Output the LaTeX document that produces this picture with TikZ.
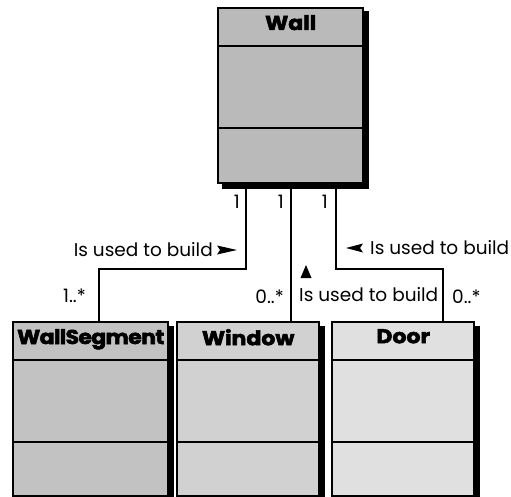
\documentclass[tikz,border=0pt]{standalone}
\usepackage{fontspec}
\usepackage{graphicx}
\setmainfont{Poppins}
\tikzset{
  classbox/.style={draw=black, line width=2.4pt, anchor=north west, inner sep=0pt},
  shadowfill/.style={fill=black},
  titletext/.style={font=\fontsize{20}{22}\selectfont\bfseries\addfontfeature{FakeBold=2.5}, anchor=north, inner sep=0pt},
  lbl/.style={font=\fontsize{18.5}{20}\selectfont, inner sep=0pt},
  conn/.style={line width=1.9pt},
  sep/.style={line width=2.4pt},
  tri/.style={fill=black}
}
\newcommand{\wide}[1]{\scalebox{1.1}[1]{#1}}
\begin{document}
\begin{tikzpicture}[x=1pt,y=-1pt]
\useasboundingbox (0,0) rectangle (511,497);
% classes
\node[classbox, fill=black!27, minimum width=145pt, minimum height=175pt] (wall) at (217,7) {};
\node[classbox, fill=black!24, minimum width=155pt, minimum height=174pt] (seg) at (12,321) {};
\node[classbox, fill=black!18, minimum width=142pt, minimum height=174pt] (win) at (176,321) {};
\node[classbox, fill=black!12, minimum width=142pt, minimum height=174pt] (door) at (331,321) {};
% shadows
\foreach \c in {wall,seg,win,door}{
  \fill[shadowfill] ([yshift=-4.5pt]\c.north east) rectangle ([xshift=5pt,yshift=-4.5pt]\c.south east);
  \fill[shadowfill] ([xshift=4.5pt]\c.south west) rectangle ([xshift=5pt,yshift=-5pt]\c.south east);
}
% separators
\draw[sep] (wall.west |- 0,46) -- (wall.east |- 0,46);
\draw[sep] (wall.west |- 0,128) -- (wall.east |- 0,128);
\foreach \c in {seg,win,door}{
  \draw[sep] (\c.west |- 0,360) -- (\c.east |- 0,360);
  \draw[sep] (\c.west |- 0,442) -- (\c.east |- 0,442);
}
% titles
\node[titletext] (wallT) at ([yshift=-8pt]wall.north) {\wide{Wall}};
\node[titletext] (segT) at ([yshift=-8pt]seg.north) {\wide{\addfontfeature{LetterSpace=-3}WallSegment}};
\node[titletext] (winT) at ([yshift=-8pt]win.north) {\wide{Window}};
\node[titletext] (doorT) at ([yshift=-8pt]door.north) {\wide{Door}};
% connectors
\draw[conn] ([xshift=29pt]wall.south west) -- ++(0,85) coordinate (k1) -| ([xshift=87pt]seg.north west);
\draw[conn] ([xshift=74pt]wall.south west) -- ([xshift=74pt]wall.south west |- win.north);
\draw[conn] ([xshift=119pt]wall.south west) -- ++(0,85) coordinate (k2) -| ([xshift=112pt]door.north west);
% multiplicities
\node[lbl, anchor=east] (m1) at (240,202) {1};
\node[lbl, anchor=east] (m2) at (284,202) {1};
\node[lbl, anchor=east] (m3) at (328,202) {1};
\node[lbl, anchor=east] (m4) at (86,296) {1..*};
\node[lbl, anchor=east] (m5) at (284,297) {0..*};
\node[lbl, anchor=west] (m6) at (452,297) {0..*};
% role labels
\node[lbl, anchor=east] (r1) at (213,250) {Is used to build};
\fill[tri] (217,245.5) -- (237,250) -- (217,254.5) -- (220,250) -- cycle;
\node[lbl, anchor=west] (r3) at (370,248) {Is used to build};
\fill[tri] (363,243.5) -- (346,248) -- (363,252.5) -- (360,248) -- cycle;
\node[lbl, anchor=west] (r2) at (299,295) {Is used to build};
\fill[tri] (300.5,278) -- (306,265) -- (311.5,278) -- cycle;
\end{tikzpicture}
\end{document}
